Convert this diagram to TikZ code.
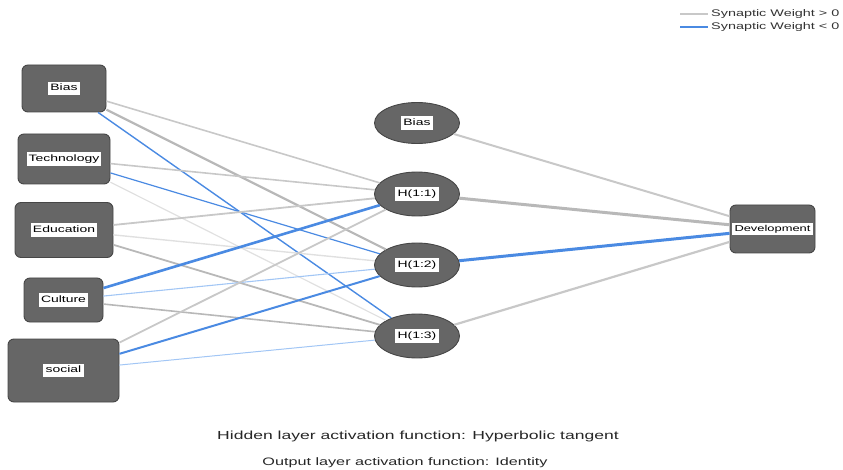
\documentclass[tikz,border=0pt]{standalone}
\usepackage{fontspec}
\setmainfont{Liberation Sans}
\newfontfamily\stretchfont[FakeStretch=1.5]{Liberation Sans}
\usetikzlibrary{shapes.geometric}
\definecolor{nodefill}{RGB}{102,102,102}
\definecolor{nodeline}{RGB}{70,70,70}
\definecolor{posw}{RGB}{200,200,200}
\definecolor{posdark}{RGB}{184,184,184}
\definecolor{poslight}{RGB}{224,224,224}
\definecolor{negw}{RGB}{74,138,226}
\definecolor{neglight}{RGB}{162,198,245}
\newcommand{\lab}[2][9.3]{{\fboxsep=2.2pt\colorbox{white}{\stretchfont\fontsize{#1}{10}\selectfont\vphantom{Ay}#2}}}
\tikzset{
  inbox/.style={draw=nodeline, fill=nodefill, rounded corners=6pt, inner sep=0pt, line width=0.9pt},
  hid/.style={ellipse, draw=nodeline, fill=nodefill, inner sep=0pt, minimum width=85pt, minimum height=44pt, line width=0.9pt},
  wpos/.style={draw=posw, line width=#1},
  wposd/.style={draw=posdark, line width=#1},
  wposl/.style={draw=poslight, line width=#1},
  wneg/.style={draw=negw, line width=#1},
  wnegl/.style={draw=neglight, line width=#1},
  legtext/.style={anchor=west, inner sep=0pt, font=\stretchfont\fontsize{9.6}{10}\selectfont, text=black!80},
  foottext/.style={inner sep=0pt, text=black!85}
}
\begin{document}
\begin{tikzpicture}[x=1pt,y=-1pt]
\useasboundingbox (0,0) rectangle (843,470);
% input layer
\node[inbox, minimum width=84pt, minimum height=47pt] (ib) at (64,88.5) {\lab{Bias}};
\node[inbox, minimum width=92pt, minimum height=50pt] (it) at (64,159) {\lab{Technology}};
\node[inbox, minimum width=98pt, minimum height=55pt] (ie) at (64,230) {\lab{Education}};
\node[inbox, minimum width=79pt, minimum height=44pt] (ic) at (63.5,300) {\lab{Culture}};
\node[inbox, minimum width=111pt, minimum height=63pt] (is) at (63.5,370.5) {\lab{social}};
% hidden layer
\node[hid, minimum height=41pt] (hb) at (417,123) {\lab{Bias}};
\node[hid] (h1) at (417,194) {\lab{H(1:1)}};
\node[hid] (h2) at (417,265) {\lab{H(1:2)}};
\node[hid] (h3) at (417,336) {\lab{H(1:3)}};
% output
\node[inbox, minimum width=85pt, minimum height=48pt] (out) at (772.5,229) {\lab[8.6]{Development}};
% input -> hidden
\draw[wpos=1.6] (ib) -- (h1);
\draw[wposd=2.2] (ib) -- (h2);
\draw[wneg=1.4] (ib) -- (h3);
\draw[wpos=1.6] (it) -- (h1);
\draw[wneg=1.2] (it) -- (h2);
\draw[wposl=1.2] (it) -- (h3);
\draw[wpos=1.8] (ie) -- (h1);
\draw[wposl=1.4] (ie) -- (h2);
\draw[wposd=1.8] (ie) -- (h3);
\draw[wneg=2.6] (ic) -- (h1);
\draw[wnegl=1.1] (ic) -- (h2);
\draw[wposd=1.6] (ic) -- (h3);
\draw[wpos=1.8] (is) -- (h1);
\draw[wneg=2.0] (is) -- (h2);
\draw[wnegl=1.0] (is) -- (h3);
% hidden -> output
\draw[wpos=2.0] (hb) -- (out);
\draw[wposd=3.0] (h1) -- (out);
\draw[wneg=3.0] (h2) -- (out);
\draw[wpos=2.2] (h3) -- (out);
% legend
\coordinate (lgpa) at (680,14);
\coordinate (lgpb) at (708,14);
\coordinate (lgna) at (680,27);
\coordinate (lgnb) at (708,27);
\draw[wpos=2.6] (lgpa) -- (lgpb);
\draw[wneg=2.6] (lgna) -- (lgnb);
\node[legtext] (lgp) at (711,14) {Synaptic Weight > 0};
\node[legtext] (lgn) at (711,27) {Synaptic Weight < 0};
% footer
\node[foottext, font=\stretchfont\fontsize{11.7}{12}\selectfont] (f1) at (418,436.5) {Hidden layer activation function: Hyperbolic tangent};
\node[foottext, font=\stretchfont\fontsize{10.8}{12}\selectfont] (f2) at (405,462.5) {Output layer activation function: Identity};
\end{tikzpicture}
\end{document}
